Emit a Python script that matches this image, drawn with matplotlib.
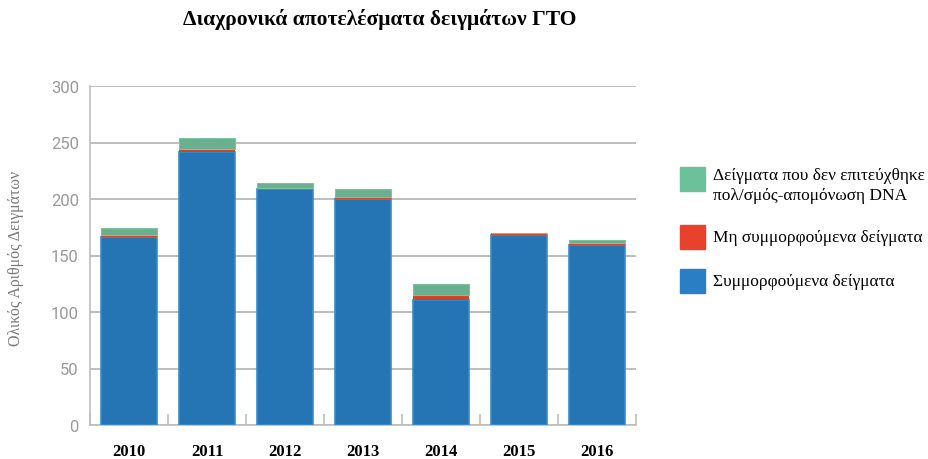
import numpy as np
import matplotlib
matplotlib.use('Agg')
import matplotlib.pyplot as plt
from matplotlib.patches import Rectangle

years = ['2010', '2011', '2012', '2013', '2014', '2015', '2016']
compliant = [166, 242, 209, 200, 111, 168, 159]
non_compliant = [2, 2, 1, 2, 4, 2, 2]
failed_dna = [6, 10, 4, 7, 10, 0, 3]

labels = ['Δείγματα που δεν επιτεύχθηκε\nπολ/σμός-απομόνωση DNA',
          'Μη συμμορφούμενα δείγματα',
          'Συμμορφούμενα δείγματα']

blue = '#2574b3'
red = '#d8401f'
green = '#68b08f'

fig = plt.figure(figsize=(9.29, 4.6), dpi=100)
ax = fig.add_axes([90 / 929, 34 / 460, 546 / 929, 339 / 460])

x = np.arange(len(years))
comp = np.array(compliant)
nonc = np.array(non_compliant)
fail = np.array(failed_dna)

w = 0.71
ax.bar(x, comp, w, color=blue, edgecolor='#3a8ccc', linewidth=1.2, zorder=3)
ax.bar(x, nonc, w, bottom=comp, color=red, linewidth=0, zorder=3)
ax.bar(x, fail, w, bottom=comp + nonc, color=green, edgecolor='#7dc3a2', linewidth=0.8, zorder=3)

ax.set_xlim(-0.5, len(years) - 0.5)
ax.set_ylim(0, 300)
ax.set_yticks(range(0, 301, 50))
ax.yaxis.grid(True, color='#b3b3b3', linewidth=1.2, zorder=0)
ax.set_axisbelow(True)

for s in ['top', 'right']:
    ax.spines[s].set_visible(False)
for s in ['left', 'bottom']:
    ax.spines[s].set_color('#bdbdbd')
    ax.spines[s].set_linewidth(1.2)

ax.set_xticks(x)
ax.set_xticklabels(years, fontfamily='Liberation Serif', fontweight='bold', fontsize=12)
ax.tick_params(axis='x', length=0, pad=13)
ax.set_xticks(np.arange(-0.5, len(years)), minor=True)
ax.tick_params(axis='x', which='minor', direction='in', length=8, color='#bdbdbd', width=1.2)
ax.tick_params(axis='y', length=0, pad=8, labelcolor='#999999', labelsize=12)
for t in ax.get_yticklabels():
    t.set_fontfamily('Roboto')

fig.text(16 / 929, 1 - 258 / 460, 'Ολικός Αριθμός Δειγμάτων', rotation=90,
         ha='center', va='center', fontfamily='Liberation Serif', fontsize=11.5, color='#777777')

fig.text(380 / 929, 1 - 20 / 460, 'Διαχρονικά αποτελέσματα δειγμάτων ΓΤΟ',
         ha='center', va='center', fontfamily='Liberation Serif', fontweight='bold', fontsize=15.5)

# legend drawn by hand to match the reference layout
legend_colors = ['#6cc09a', '#e8412c', '#2a7fc4']
legend_tops = [168, 226, 270]
text_y = [186, 238, 282]
for c, top, ty, lab in zip(legend_colors, legend_tops, text_y, labels):
    fig.patches.append(Rectangle((680 / 929, 1 - (top + 24) / 460), 25 / 929, 24 / 460,
                                 transform=fig.transFigure, color=c, figure=fig))
    fig.text(713 / 929, 1 - ty / 460, lab, ha='left', va='center',
             fontfamily='Liberation Serif', fontsize=12.5, linespacing=1.3)

fig.savefig('out.png', dpi=100)
